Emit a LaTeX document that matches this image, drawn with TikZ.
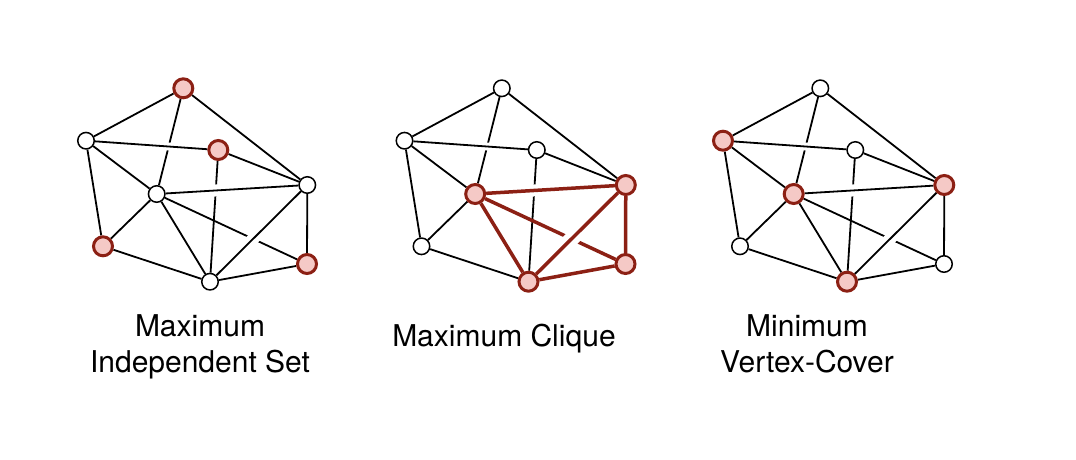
\documentclass[tikz,border=0pt]{standalone}
\usepackage{fontspec}
\usetikzlibrary{calc}
\newfontfamily\lblfont{TeX Gyre Heros}
\definecolor{dred}{RGB}{140,32,20}
\definecolor{pinkf}{RGB}{245,201,198}
\pgfdeclarelayer{back}
\pgfdeclarelayer{edges}
\pgfsetlayers{back,edges,main}
\tikzset{
  wnode/.style={circle, draw=black, line width=1.5pt, fill=white, minimum size=16.5pt, inner sep=0pt},
  rnode/.style={circle, draw=dred, line width=3pt, fill=pinkf, minimum size=19pt, inner sep=0pt},
  ln/.style={draw=black, line width=1.8pt},
  rln/.style={draw=dred, line width=3.5pt},
  halo/.style={draw=white},
  lbl/.style={font=\lblfont\fontsize{30}{36}\selectfont, anchor=base, inner sep=0pt},
}
\newcommand\gnodes[9]{%
  \node[#2] (#1A) at (183.3,88.3) {};
  \node[#3] (#1B) at (86,140.7) {};
  \node[#4] (#1C) at (218.3,150) {};
  \node[#5] (#1D) at (156.7,194) {};
  \node[#6] (#1E) at (307.3,185) {};
  \node[#7] (#1F) at (103,246.3) {};
  \node[#8] (#1G) at (210,281.7) {};
  \node[#9] (#1H) at (307,264) {};
}
\newcommand\gedges[4]{%
  \begin{pgfonlayer}{edges}
  \draw[ln] (#1A) -- (#1D);
  \draw[ln] (#1C) -- (#1G);
  \draw[#2] (#1D) -- (#1H);
  \draw[halo, line width=8pt] ($(#1B)!0.5!(#1C)$) -- ($(#1B)!0.75!(#1C)$);
  \draw[halo, line width=#3] ($(#1D)!0.25!(#1E)$) -- ($(#1D)!0.55!(#1E)$);
  \draw[halo, line width=#4] ($(#1G)!0.3!(#1E)$) -- ($(#1G)!0.6!(#1E)$);
  \draw[ln] (#1B) -- (#1C);
  \draw[ln] (#1A) -- (#1B);
  \draw[ln] (#1A) -- (#1E);
  \draw[ln] (#1B) -- (#1D);
  \draw[ln] (#1B) -- (#1F);
  \draw[ln] (#1C) -- (#1E);
  \draw[ln] (#1D) -- (#1F);
  \draw[ln] (#1F) -- (#1G);
  \draw[#2] (#1D) -- (#1E);
  \draw[#2] (#1G) -- (#1E);
  \draw[#2] (#1D) -- (#1G);
  \draw[#2] (#1E) -- (#1H);
  \draw[#2] (#1G) -- (#1H);
  \end{pgfonlayer}
}
\begin{document}
\begin{tikzpicture}[x=1pt, y=-1pt]
\begin{pgfonlayer}{back}
\fill[white] (0,0) rectangle (1076,460);
\end{pgfonlayer}
\useasboundingbox (0,0) rectangle (1076,460);
% panel 1: maximum independent set
\gnodes{a}{rnode}{wnode}{rnode}{wnode}{wnode}{rnode}{wnode}{rnode}
\gedges{a}{ln}{12pt}{12pt}
% panel 2: maximum clique
\begin{scope}[xshift=318.5pt]
\gnodes{b}{wnode}{wnode}{wnode}{rnode}{rnode}{wnode}{rnode}{rnode}
\end{scope}
\gedges{b}{rln}{12pt}{15pt}
% panel 3: minimum vertex cover
\begin{scope}[xshift=637pt]
\gnodes{c}{wnode}{rnode}{wnode}{rnode}{rnode}{wnode}{rnode}{wnode}
\end{scope}
\gedges{c}{ln}{12pt}{12pt}
% labels
\node[lbl] (l1a) at (200,336.7) {Maximum};
\node[lbl] (l1b) at (200,372.7) {Independent Set};
\node[lbl] (l2) at (504,346.7) {Maximum Clique};
\node[lbl] (l3a) at (807,336.7) {Minimum};
\node[lbl] (l3b) at (807,372.4) {Vertex-Cover};
\end{tikzpicture}
\end{document}
